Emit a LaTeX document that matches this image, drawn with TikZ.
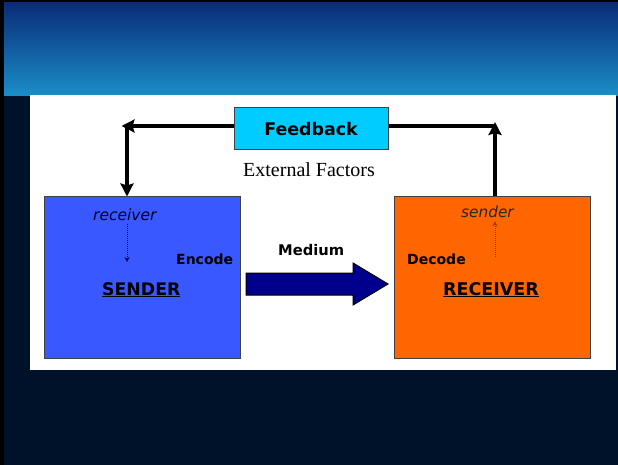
\documentclass[tikz,border=0pt]{standalone}
\usepackage{fontspec}
\setmainfont{Liberation Serif}
\newfontfamily\vfont{DejaVu Sans}
\usetikzlibrary{arrows.meta}
\definecolor{sendblue}{RGB}{58,88,255}
\definecolor{recvorange}{RGB}{255,102,0}
\definecolor{fbcyan}{RGB}{0,204,255}
\definecolor{medianavy}{RGB}{0,0,140}
\definecolor{slidetop}{RGB}{10,44,120}
\definecolor{slidemid}{RGB}{26,142,200}
\definecolor{slidebot}{RGB}{0,17,42}

\begin{document}
\begin{tikzpicture}[x=1pt,y=-1pt,>={Stealth[length=13pt,width=13pt,inset=2pt]},
  box/.style={draw=black!75,line width=1pt,minimum width=196pt,minimum height=161pt},
  fbline/.style={line width=4.5pt},
  hint/.style={densely dotted,line width=1pt,-{Stealth[length=5pt,width=5pt]}},
  lbl/.style={font=\vfont\bfseries,anchor=base west,inner sep=0pt}]

\useasboundingbox (0,0) rectangle (618,465);

%Slide
\fill[black] (0,0) rectangle (618,465);
\fill[slidebot] (4,3) rectangle (618,465);
\shade[top color=slidetop,bottom color=slidemid] (4,3) rectangle (618,96);
\fill[white] (30,95) rectangle (616,370);

%Boxes
\node[box,fill=sendblue] (sender) at (142,277.5) {};
\node[box,fill=recvorange] (receiver) at (492,277.5) {};
\node[draw=black!75,line width=1pt,fill=fbcyan,minimum width=154pt,minimum height=42pt,
  font=\vfont\bfseries\fontsize{17.4}{20}\selectfont] (feedback) at (311,129) {Feedback};
\node[anchor=base west,inner sep=0pt,font=\fontsize{20}{24}\selectfont] (external) at (243,177) {External Factors};

%Feedback loop
\coordinate (lcorner) at (127,126);
\coordinate (rcorner) at (495,126);
\draw[fbline,->,shorten >=-5.5pt] (feedback.west |- lcorner) -- (lcorner);
\draw[fbline,->] (lcorner) -- (lcorner |- sender.north);
\draw[fbline] (feedback.east |- rcorner) -- (rcorner);
\draw[fbline,->,shorten >=-4pt] (rcorner |- receiver.north) -- (rcorner);

%Sender
\node[anchor=base west,inner sep=0pt,text=black!85!blue,font=\vfont\itshape\fontsize{15.5}{18}\selectfont] (sndhint) at (93,220) {receiver};
\coordinate (sdown) at (127,262);
\draw[hint,black!70!blue] (sndhint.south -| sdown) ++(0,4) -- (sdown);
\node[lbl,font=\vfont\bfseries\fontsize{14}{17}\selectfont] (encode) at (176,264) {Encode};
\node[lbl,font=\vfont\bfseries\fontsize{17.3}{20}\selectfont] (sendname) at (102,295) {\underline{SENDER}};

%Receiver
\node[anchor=base west,inner sep=0pt,text=black!85,font=\vfont\itshape\fontsize{15.3}{18}\selectfont] (rcvhint) at (461,217) {sender};
\coordinate (rup) at (495,257);
\draw[hint,recvorange!60!black] (rup) -- ([yshift=-4pt]rup |- rcvhint.south);
\node[lbl,font=\vfont\bfseries\fontsize{14}{17}\selectfont] (decode) at (407,264) {Decode};
\node[lbl,font=\vfont\bfseries\fontsize{17.5}{20}\selectfont] (rcvname) at (443,295) {\underline{RECEIVER}};

%Medium
\node[lbl,font=\vfont\bfseries\fontsize{14.7}{17}\selectfont] (medium) at (278,255) {Medium};
\draw[fill=medianavy,line width=1pt] (246,273) -- (353,273) -- (353,263) -- (388,284)
  -- (353,305) -- (353,295) -- (246,295) -- cycle;

\end{tikzpicture}
\end{document}
